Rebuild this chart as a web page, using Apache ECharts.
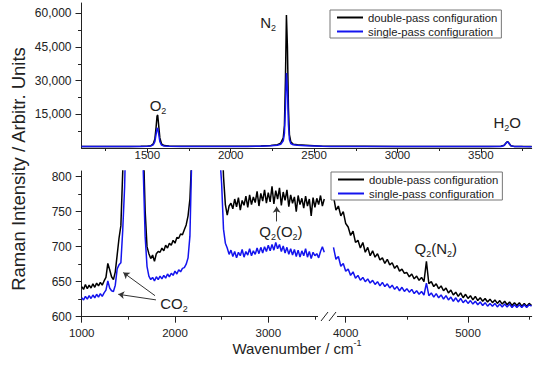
<!DOCTYPE html>
<html><head><meta charset="utf-8">
<script src="https://cdn.jsdelivr.net/npm/echarts@6/dist/echarts.min.js"></script>
<style>html,body{margin:0;padding:0;background:#fff}#c{width:550px;height:365px}</style>
</head><body><div id="c"></div>
<script>
// ---------------- data ----------------
const seriesNames = ['double-pass configuration', 'single-pass configuration'];

// upper panel (full spectrum)
const topX = [1105,1200,1300,1400,1460,1500,1520,1535,1545,1552,1558,1562,1568,1575,1585,1600,1630,1700,1800,1900,
  2000,2100,2180,2240,2280,2300,2315,2322,2328,2334,2340,2346,2352,2360,2375,2400,2450,2500,2550,2600,
  2800,3000,3200,3400,3550,3620,3640,3652,3660,3668,3680,3700,3750,3805];
const topDouble = [640,645,660,690,730,800,1000,1800,4000,9000,14200,14700,10000,4500,1800,1100,850,760,740,740,
  750,780,850,1100,1500,2200,4500,10000,30000,59200,45000,18000,6000,2800,1700,1400,1200,1000,800,760,
  730,720,710,700,700,750,1200,2300,2900,2200,1000,720,660,640];
const topSingle = [620,625,635,660,700,760,900,1400,2800,6000,8600,8900,6200,2800,1300,900,750,680,660,660,
  670,700,780,950,1250,1700,3200,6500,18000,33400,26000,10500,3800,2000,1400,1200,1050,900,730,690,
  670,660,650,645,650,700,1150,2200,2800,2100,950,680,620,600];

// lower panel, left of the axis break: spectrum sampled every 20 cm-1 from 1000
const lowLeftStart = 1000, lowLeftStep = 20;
const lowLeftDouble = [
  643,639,646,640,645,641,647,642,648,644,
  649,645,651,656,676,667,657,653,664,688,
  712,730,808,1200,2500,5000,9000,13000,14500,11000,
  6000,2500,1200,850,752,700,690,683,688,679,
  690,693,692,698,694,702,698,705,702,709,
  705,713,712,718,717,724,731,744,768,830,
  1200,3000,8000,20000,40000,55000,59000,50000,30000,15000,
  6000,2500,1500,1100,900,880,800,760,745,758,
  762,754,768,757,770,752,766,759,772,756,
  774,760,771,763,779,758,776,765,781,762,
  777,764,786,761,780,768,784,759,778,766,
  781,757,774,762,771,750,773,760,769,755,
  772,758,768,744,770,756,769,760,773,758,
  768];
const lowLeftSingle = [
  627,624,629,625,630,626,631,627,632,628,
  633,629,634,638,651,641,637,636,645,668,
  674,677,724,785,900,2500,5000,8000,9000,7000,
  3500,1500,950,808,715,672,658,653,656,651,
  657,653,658,654,659,655,661,657,662,659,
  665,661,667,664,669,670,675,684,715,830,
  1500,3000,8000,15000,25000,32000,33400,28000,18000,9000,
  4000,1800,1100,900,830,790,725,705,698,689,
  695,686,693,684,692,687,696,685,693,688,
  697,687,694,689,698,690,699,691,700,693,
  702,694,703,695,706,697,703,693,701,691,
  699,689,697,688,696,686,695,685,694,687,
  697,685,693,683,692,687,690,684,693,700,
  692];

// lower panel, right of the axis break: sampled every 20 cm-1 from 3900
const lowRightStart = 3900, lowRightStep = 20;
const lowRightDouble = [
  772,752,758,744,750,733,728,716,722,706,
  709,698,706,692,699,687,694,685,690,681,
  684,676,682,674,677,669,673,665,668,662,
  663,657,661,654,658,652,656,650,679,647,
  650,643,647,640,644,637,641,634,638,631,
  635,629,634,627,632,626,630,624,629,623,
  627,622,626,621,625,620,624,619,623,618,
  622,617,621,616,620,616,620,615,619,615,
  619,616];
const lowRightSingle = [
  699,682,686,672,676,665,668,659,664,655,
  659,652,656,650,654,648,652,646,650,644,
  649,643,647,641,645,639,643,637,642,636,
  640,635,639,633,637,632,636,631,648,630,
  634,628,633,627,631,625,630,624,628,622,
  627,621,626,620,624,619,623,618,622,617,
  621,616,620,615,619,615,619,614,618,614,
  618,614,618,613,617,613,617,613,617,613,
  617,615];

// ticks
const topXMajor = [1500,2000,2500,3000,3500];
const topXMinor = [1250,1750,2250,2750,3250,3750];
const topYMajor = [15000,30000,45000,60000];
const topYMinor = [7500,22500,37500,52500];
const lowXLeftMajor = [1000,2000,3000];
const lowXLeftMinor = [1500,2500,3500];
const lowXRightMajor = [4000,5000];
const lowXRightMinor = [4500,5500];
const lowYMajor = [600,650,700,750,800];
const lowYMinor = [625,675,725,775];

// ---------------- chart ----------------
const FF = "'Liberation Sans', Arial, Helvetica, sans-serif";
const INK = '#222';
const COLORS = ['#000000', '#1414ee'];

const sampled = (start, step, ys) => ys.map((y, i) => [start + step * i, y]);
const pairs = (xs, ys) => xs.map((x, i) => [x, ys[i]]);

const rich = {
  n: {fontSize: 15, lineHeight: 20, fontFamily: FF, color: INK},
  s: {fontSize: 9, lineHeight: 11, verticalAlign: 'bottom', fontFamily: FF, color: INK}
};
function notes(list) {
  return {
    symbol: 'circle', symbolSize: 1, silent: true,
    itemStyle: {color: 'rgba(0,0,0,0)'},
    label: {show: true, position: 'inside', rich: rich, color: INK},
    data: list.map(d => ({coord: d.at, value: 0, label: {formatter: d.text}}))
  };
}
function arrows(list) {
  return {
    silent: true, symbol: ['none', 'arrow'], symbolSize: 6,
    label: {show: false},
    lineStyle: {color: '#333', width: 1, type: 'solid'},
    data: list.map(a => [{coord: a[0]}, {coord: a[1]}])
  };
}

function lineSeries(k, xi, yi, data, extra) {
  return Object.assign({
    type: 'line', name: seriesNames[k], xAxisIndex: xi, yAxisIndex: yi, data: data,
    symbol: 'none', showSymbol: false, clip: true, animation: false,
    lineStyle: {color: COLORS[k], width: 1.5}, itemStyle: {color: COLORS[k]}
  }, extra || {});
}

const axisLineStyle = {show: true, onZero: false, lineStyle: {color: INK, width: 1}};
function xMajor(gi, min, max, vals, margin, len) {
  return {type: 'value', gridIndex: gi, position: 'bottom', min, max,
    axisLine: axisLineStyle,
    axisTick: {show: true, customValues: vals, length: len, lineStyle: {color: INK}},
    axisLabel: {show: true, customValues: vals, margin: margin, fontSize: 11.5, fontFamily: FF, color: INK,
      formatter: v => String(v)},
    splitLine: {show: false}};
}
function xMinor(gi, min, max, vals, len) {
  return {type: 'value', gridIndex: gi, position: 'bottom', min, max,
    axisLine: {show: false, onZero: false},
    axisTick: {show: true, customValues: vals, length: len, lineStyle: {color: INK}},
    axisLabel: {show: false}, splitLine: {show: false}};
}
function yMajor(gi, min, max, vals, fmt) {
  return {type: 'value', gridIndex: gi, position: 'left', min, max,
    axisLine: axisLineStyle,
    axisTick: {show: true, customValues: vals, length: 6, lineStyle: {color: INK}},
    axisLabel: {show: true, customValues: vals, margin: 10, fontSize: 12, fontFamily: FF, color: INK, formatter: fmt},
    splitLine: {show: false}};
}
function yMinor(gi, min, max, vals) {
  return {type: 'value', gridIndex: gi, position: 'left', min, max,
    axisLine: {show: false, onZero: false},
    axisTick: {show: true, customValues: vals, length: 3.5, lineStyle: {color: INK}},
    axisLabel: {show: false}, splitLine: {show: false}};
}

const legendCommon = {
  orient: 'vertical', data: seriesNames, itemWidth: 26, itemHeight: 12, itemGap: 3,
  padding: [2, 4, 1, 6], borderColor: '#777', borderWidth: 1, borderRadius: 0,
  backgroundColor: '#fff', selectedMode: false,
  itemStyle: {opacity: 0},
  lineStyle: {width: 2},
  textStyle: {fontSize: 11.3, fontFamily: FF, color: INK}
};

const option = {
  animation: false,
  backgroundColor: '#fff',
  textStyle: {fontFamily: FF},
  grid: [
    {left: 81.5, top: 3, width: 450.2, height: 145, containLabel: false},
    {left: 81.7, top: 171, width: 243.3, height: 145.7, containLabel: false},
    {left: 333, top: 171, width: 198.7, height: 145.7, containLabel: false}
  ],
  xAxis: [
    xMajor(0, 1105, 3805, topXMajor, 1, 5),
    xMinor(0, 1105, 3805, topXMinor, 3),
    xMajor(1, 1000, 3608, lowXLeftMajor, 10, 6),
    xMinor(1, 1000, 3608, lowXLeftMinor, 3),
    xMajor(2, 3896, 5521, lowXRightMajor, 10, 6),
    xMinor(2, 3896, 5521, lowXRightMinor, 3)
  ],
  yAxis: [
    yMajor(0, 0, 64600, topYMajor, v => v.toLocaleString('en-US')),
    yMinor(0, 0, 64600, topYMinor),
    yMajor(1, 600, 808, lowYMajor, v => String(v)),
    yMinor(1, 600, 808, lowYMinor),
    {type: 'value', gridIndex: 2, min: 600, max: 808, show: false}
  ],
  legend: [
    Object.assign({left: 330, top: 10}, legendCommon),
    Object.assign({left: 331, top: 172}, legendCommon)
  ],
  series: [
    lineSeries(0, 0, 0, pairs(topX, topDouble), {
      markPoint: notes([
        {text: '{n|O}{s|2}', at: [1564, 19150]},
        {text: '{n|N}{s|2}', at: [2224, 55700]},
        {text: '{n|H}{s|2}{n|O}', at: [3658, 11140]}
      ])
    }),
    lineSeries(1, 0, 0, pairs(topX, topSingle)),
    lineSeries(0, 2, 2, sampled(lowLeftStart, lowLeftStep, lowLeftDouble), {
      markPoint: notes([
        {text: '{n|CO}{s|2}', at: [1989, 619]},
        {text: '{n|Q}{s|2}{n|(O}{s|2}{n|)}', at: [3136, 721]}
      ]),
      markLine: arrows([
        [[1786, 630], [1446, 663]],
        [[1796, 624], [1392, 632]],
        [[3090, 736], [3090, 757]]
      ])
    }),
    lineSeries(1, 2, 2, sampled(lowLeftStart, lowLeftStep, lowLeftSingle)),
    lineSeries(0, 4, 4, sampled(lowRightStart, lowRightStep, lowRightDouble), {
      markPoint: notes([
        {text: '{n|Q}{s|2}{n|(N}{s|2}{n|)}', at: [4737, 697]}
      ])
    }),
    lineSeries(1, 4, 4, sampled(lowRightStart, lowRightStep, lowRightSingle))
  ],
  graphic: [
    {type: 'text', x: 18.3, y: 169, rotation: Math.PI / 2, z: 100,
      style: {text: 'Raman Intensity / Arbitr. Units', fontSize: 18.5, fontFamily: FF, fill: INK,
        align: 'center', verticalAlign: 'middle'}},
    {type: 'text', x: 297, y: 348, z: 100,
      style: {text: '{t|Wavenumber / cm}{p|-1}', align: 'center', verticalAlign: 'middle', fill: INK,
        rich: {
          t: {fontSize: 15, lineHeight: 20, fontFamily: FF, fill: INK, color: INK},
          p: {fontSize: 9, lineHeight: 11, verticalAlign: 'top', fontFamily: FF, fill: INK, color: INK}
        }}},
    {type: 'rect', z: 100, shape: {x: 318, y: 313, width: 19, height: 7}, style: {fill: '#fff'}},
    {type: 'line', z: 101, shape: {x1: 321, y1: 321, x2: 328, y2: 312}, style: {stroke: INK, lineWidth: 1}},
    {type: 'line', z: 101, shape: {x1: 329, y1: 321, x2: 336, y2: 312}, style: {stroke: INK, lineWidth: 1}}
  ]
};

const chart = echarts.init(document.getElementById('c'), null, {renderer: 'svg'});
chart.setOption(option);
</script>
</body></html>
